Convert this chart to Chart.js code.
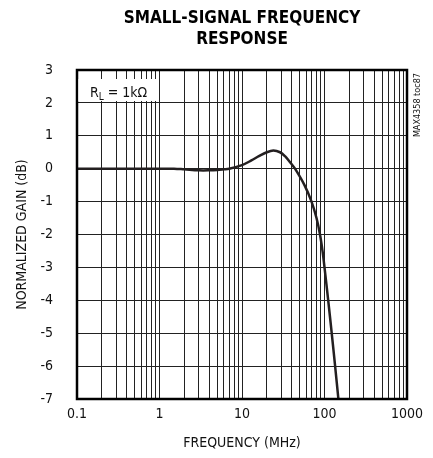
<!DOCTYPE html>
<html>
<head>
<meta charset="utf-8">
<script src="https://cdn.jsdelivr.net/npm/chart.js@4/dist/chart.umd.min.js"></script>
<style>
	html, body { margin: 0; padding: 0; background: #fff; }
	#wrap { width: 433px; height: 458px; }
</style>
</head>
<body>
<div id="wrap"><canvas id="chart" width="433" height="458"></canvas></div>
<script>
// curve (MHz -> dB)
const freqMHz = [0.1, 0.5, 1, 1.5, 2, 3, 4, 5, 6, 7, 10, 13, 16, 20, 24, 28.9, 33.2, 38.2, 43.9, 57.2, 69.6, 80, 88.2, 94.6, 100, 110.9, 122.3, 134.5, 147.4, 158.5];
const gainDb = [0, 0, 0, 0, -0.02, -0.05, -0.05, -0.04, -0.02, 0, 0.11, 0.25, 0.38, 0.5, 0.55, 0.5, 0.38, 0.2, 0, -0.5, -1, -1.5, -2, -2.5, -3, -4, -5, -6, -7, -7.8];
const xGrid = [0.1, 0.2, 0.3, 0.4, 0.5, 0.6, 0.7, 0.8, 0.9, 1, 2, 3, 4, 5, 6, 7, 8, 9, 10, 20, 30, 40, 50, 60, 70, 80, 90, 100, 200, 300, 400, 500, 600, 700, 800, 900, 1000];
const xLabels = [0.1, 1, 10, 100, 1000];

const FONT = "'Liberation Sans Narrow', 'DejaVu Sans Condensed', 'Liberation Sans', sans-serif";

const extras = {
	id: "extras",
	afterDraw(chart) {
		const ctx = chart.ctx;
		const a = chart.chartArea;
		ctx.save();
		// frame
		ctx.strokeStyle = "#000";
		ctx.lineWidth = 2.5;
		ctx.strokeRect(a.left, a.top, a.right - a.left, a.bottom - a.top);
		// R_L box
		ctx.fillStyle = "#fff";
		ctx.fillRect(a.left + 1.5, a.top + 9, 78, 22);
		ctx.fillStyle = "#111";
		ctx.textBaseline = "alphabetic";
		ctx.font = "14px " + FONT;
		let x = a.left + 13;
		const y = a.top + 27;
		ctx.fillText("R", x, y);
		x += ctx.measureText("R").width;
		ctx.font = "10px " + FONT;
		ctx.fillText("L", x, y + 3);
		x += ctx.measureText("L").width;
		ctx.font = "14px " + FONT;
		ctx.fillText(" = 1k\u03A9", x, y);
		// part id, vertical
		ctx.translate(a.right + 11, a.top + 3);
		ctx.rotate(-Math.PI / 2);
		ctx.font = "9px " + FONT;
		ctx.textAlign = "right";
		ctx.textBaseline = "middle";
		ctx.fillText("MAX4358 toc87", 0, 0);
		ctx.restore();
	}
};

new Chart(document.getElementById("chart"), {
	type: "line",
	data: {
		datasets: [{
			data: freqMHz.map((f, i) => ({ x: f, y: gainDb[i] })),
			borderColor: "#231f20",
			borderWidth: 2.5,
			pointRadius: 0,
			tension: 0.35,
			fill: false
		}]
	},
	options: {
		responsive: false,
		animation: false,
		layout: { padding: { left: 0, right: 26, top: 0, bottom: 0 } },
		plugins: {
			legend: { display: false },
			tooltip: { enabled: false },
			title: {
				display: true,
				fullSize: false,
				text: ["SMALL-SIGNAL FREQUENCY", "RESPONSE"],
				color: "#000",
				font: { family: FONT, size: 17, weight: "bold", lineHeight: 1.25 },
				padding: { top: 8, bottom: 19.5 }
			}
		},
		scales: {
			x: {
				type: "logarithmic",
				min: 0.1,
				max: 1000,
				afterBuildTicks: s => { s.ticks = xGrid.map(v => ({ value: v })); },
				afterFit: s => { s.height = 59; },
				ticks: {
					autoSkip: false,
					maxRotation: 0,
					padding: 7,
					color: "#111",
					font: { family: FONT, size: 14 },
					callback: v => xLabels.includes(v) ? String(v) : ""
				},
				grid: { color: "#222", lineWidth: 1, drawTicks: false },
				border: { display: false },
				title: {
					display: true,
					text: "FREQUENCY (MHz)",
					color: "#111",
					font: { family: FONT, size: 14 },
					padding: { top: 4, bottom: 6.5 }
				}
			},
			y: {
				min: -7,
				max: 3,
				afterFit: s => { s.width = 77; },
				ticks: {
					stepSize: 1,
					padding: 24,
					color: "#111",
					font: { family: FONT, size: 14 }
				},
				grid: { color: "#222", lineWidth: 1, drawTicks: false },
				border: { display: false },
				title: {
					display: true,
					text: "NORMALIZED GAIN (dB)",
					color: "#111",
					font: { family: FONT, size: 14 },
					padding: { top: 13.5, bottom: 0 }
				}
			}
		}
	},
	plugins: [extras]
});
</script>
</body>
</html>
